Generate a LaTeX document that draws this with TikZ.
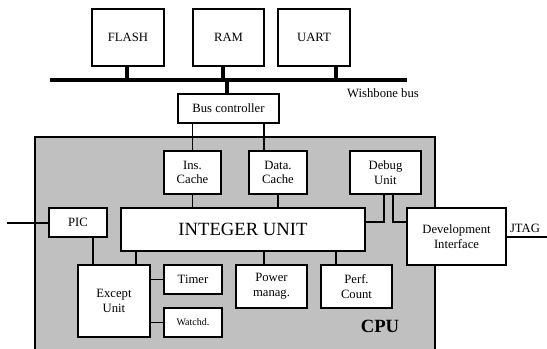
\documentclass[tikz,border=0pt]{standalone}
\usepackage{fontspec}
\setmainfont{Liberation Serif}
\usepackage{xcolor}
\usepackage{tikz}
\usetikzlibrary{calc,positioning}
\definecolor{cpugray}{HTML}{C0C0C0}
\tikzset{
  blk/.style={draw=black, fill=white, line width=0.95pt, inner sep=0pt, align=center,
    font=\fontsize{9.5}{11}\selectfont},
  wire/.style={draw=black, line width=0.85pt},
  busline/.style={draw=black, line width=3pt},
  lab/.style={text=black, font=\fontsize{9.5}{11}\selectfont},
}

\begin{document}
\begin{tikzpicture}[x=0.75pt, y=-0.75pt]
\useasboundingbox (0,0) rectangle (547,349);

% CPU area
\draw[fill=cpugray, line width=0.95pt] (35,137) rectangle (435,351);
\node[font=\fontsize{14}{16}\selectfont\bfseries] (cpu) at (380,326) {CPU};

% memories and peripherals on the bus
\node[blk, minimum width=54pt, minimum height=42.75pt] (flash) at (128,37.5) {FLASH};
\node[blk, minimum width=53.25pt, minimum height=42.75pt] (ram) at (228.5,37.5) {RAM};
\node[blk, minimum width=54pt, minimum height=42.75pt] (uart) at (314,37.5) {UART};
\node[blk, minimum width=75.75pt, minimum height=21.75pt] (bc) at (228.5,108.5) {Bus controller};
\node[lab] (wbl) at (383,93) {Wishbone bus};

\coordinate (wbL) at (50,80);
\coordinate (wbR) at (407,80);
\coordinate (fx) at (127,0);
\coordinate (rx) at (223,0);
\coordinate (ux) at (336,0);
\coordinate (bx) at (227,0);
\draw[busline] (wbL) -- (wbR);
\draw[busline] (flash.south -| fx) -- (wbL -| fx);
\draw[busline] (ram.south -| rx) -- (wbL -| rx);
\draw[busline] (uart.south -| ux) -- (wbL -| ux);
\draw[busline] (wbL -| bx) -- (bc.north -| bx);

% inside the CPU
\node[blk, minimum width=42.75pt, minimum height=32.25pt] (ic) at (192.5,172.5) {Ins.\\Cache};
\node[blk, minimum width=43.5pt, minimum height=32.25pt] (dc) at (278,172.5) {Data.\\Cache};
\node[blk, minimum width=53.25pt, minimum height=32.25pt] (du) at (385.5,172.5) {Debug\\Unit};
\node[blk, minimum width=183pt, minimum height=32.25pt, font=\fontsize{14}{16}\selectfont] (iu) at (243,229.5) {INTEGER UNIT};
\node[blk, minimum width=43.5pt, minimum height=21.75pt] (pic) at (78,222.5) {PIC};
\node[blk, minimum width=74.25pt, minimum height=42.75pt] (dev) at (456.5,236.5) {Development\\Interface};
\node[lab] (jt) at (525,228) {JTAG};

\node[blk, minimum width=54pt, minimum height=54pt] (ex) at (114,301) {Except\\Unit};
\node[blk, minimum width=43.5pt, minimum height=21.75pt] (tm) at (193,279.5) {Timer};
\node[blk, minimum width=43.5pt, minimum height=21.75pt, font=\fontsize{7.5}{9}\selectfont] (wd) at (193,322.5) {Watchd.};
\node[blk, minimum width=53.25pt, minimum height=32.25pt] (pw) at (271.5,286.5) {Power\\manag.};
\node[blk, minimum width=53.25pt, minimum height=32.25pt] (pf) at (356.5,286.5) {Perf.\\Count};

% wires
\coordinate (dcx) at (264,0);
\draw[wire] (bc.south -| ic.north) -- (ic.north);
\draw[wire] (bc.south -| dcx) -- (dc.north -| dcx);
\draw[wire] (ic.south) -- (ic.south |- iu.north);
\draw[wire] (dc.south) -- (dc.south |- iu.north);

\coordinate (dj) at (384,222);
\coordinate (dk) at (393,222);
\draw[wire] (iu.east |- dj) -- (dj) -- (dj |- du.south);
\draw[wire] (dk |- du.south) -- (dk) -- (dk -| dev.west);

\coordinate (irq) at (7,223);
\coordinate (jtag) at (547,237);
\draw[wire] (irq) -- (irq -| pic.west);
\draw[wire] (dev.east |- jtag) -- (jtag);

\coordinate (pa) at (93,0);
\coordinate (ia) at (136,0);
\coordinate (pwa) at (264,0);
\coordinate (pfa) at (336,0);
\draw[wire] (pic.south -| pa) -- (ex.north -| pa);
\draw[wire] (iu.south -| ia) -- (ex.north -| ia);
\draw[wire] (iu.south -| pwa) -- (pw.north -| pwa);
\draw[wire] (iu.south -| pfa) -- (pf.north -| pfa);
\draw[wire] (tm.west -| ex.east) -- (tm.west);
\draw[wire] (wd.west -| ex.east) -- (wd.west);
\end{tikzpicture}
\end{document}
